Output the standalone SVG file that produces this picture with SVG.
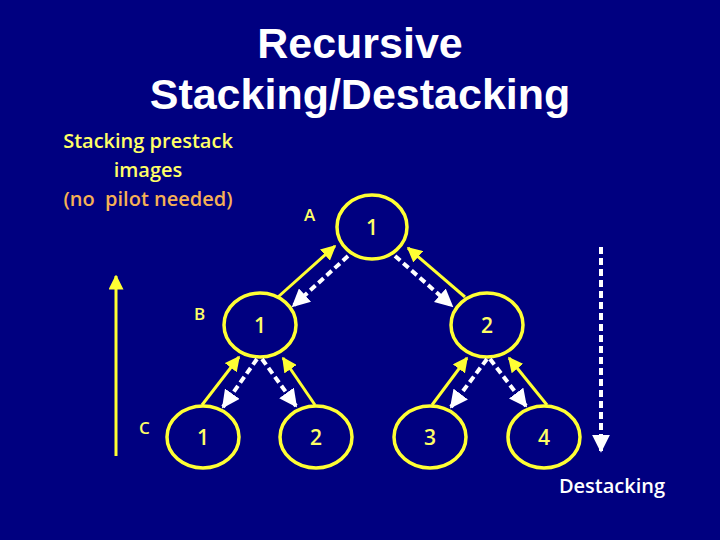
<svg xmlns="http://www.w3.org/2000/svg" width="720" height="540" viewBox="0 0 720 540">
<defs>
<style>
.title{font-family:"Liberation Sans",Arial,sans-serif;font-weight:bold;font-size:43px;fill:#ffffff;text-anchor:middle}
.lbl{font-family:"Open Sans","Liberation Sans",sans-serif;font-weight:600;font-size:17px;fill:#ffff66}
.num{font-family:"Open Sans","Liberation Sans",sans-serif;font-weight:600;font-size:21px;fill:#ffff66;text-anchor:middle}
.side{font-family:"Open Sans","Liberation Sans",sans-serif;font-weight:600;font-size:20px;text-anchor:middle}
.node{fill:none;stroke:#ffff33;stroke-width:3.5}
.up{stroke:#ffff33;stroke-width:3;fill:none;marker-end:url(#yh)}
.down{stroke:#ffffff;stroke-width:4;stroke-dasharray:7 4;fill:none;marker-end:url(#wh)}
</style>
<marker id="yh" viewBox="0 0 10 10" refX="9" refY="5" markerWidth="5" markerHeight="5" orient="auto" markerUnits="strokeWidth">
<path d="M0,0 L10,5 L0,10 z" fill="#ffff33"/>
</marker>
<marker id="wh" viewBox="0 0 10 10" refX="9" refY="5" markerWidth="4.5" markerHeight="4.5" orient="auto" markerUnits="strokeWidth">
<path d="M0,0 L10,5 L0,10 z" fill="#ffffff"/>
</marker>
</defs>
<rect x="0" y="0" width="720" height="540" fill="#000080"/>
<text class="title" x="360" y="58">Recursive</text>
<text class="title" x="360" y="109">Stacking/Destacking</text>
<g id="caption">
<text class="side" x="148" y="148" fill="#ffff66">Stacking prestack</text>
<text class="side" x="148" y="177" fill="#ffff66">images</text>
<text class="side" x="148" y="206" fill="#f5b055" xml:space="preserve">(no  pilot needed)</text>
</g>
<g id="labels">
<text class="lbl" x="304" y="221">A</text>
<text class="lbl" x="194" y="320">B</text>
<text class="lbl" x="139" y="434">C</text>
</g>
<g id="n-top"><ellipse class="node" cx="372" cy="227" rx="35" ry="32"/><text class="num" x="372" y="235">1</text></g>
<g id="n-l"><ellipse class="node" cx="260" cy="325" rx="36" ry="32"/><text class="num" x="260" y="333">1</text></g>
<g id="n-r"><ellipse class="node" cx="487" cy="325" rx="36" ry="32"/><text class="num" x="487" y="333">2</text></g>
<g id="n-1"><ellipse class="node" cx="203" cy="437" rx="36" ry="31"/><text class="num" x="203" y="445">1</text></g>
<g id="n-2"><ellipse class="node" cx="316" cy="437" rx="36" ry="31"/><text class="num" x="316" y="445">2</text></g>
<g id="n-3"><ellipse class="node" cx="430" cy="437" rx="36" ry="31"/><text class="num" x="430" y="445">3</text></g>
<g id="n-4"><ellipse class="node" cx="544" cy="437" rx="36" ry="31"/><text class="num" x="544" y="445">4</text></g>
<g id="connectors">
<line class="up" x1="278" y1="297" x2="335" y2="246"/>
<line class="down" x1="348" y1="256" x2="293" y2="306"/>
<line class="up" x1="465" y1="297" x2="408" y2="248"/>
<line class="down" x1="395" y1="256" x2="452" y2="306"/>
<line class="up" x1="202" y1="405" x2="239" y2="357"/>
<line class="down" x1="257" y1="359" x2="223" y2="407"/>
<line class="down" x1="262" y1="359" x2="296" y2="406"/>
<line class="up" x1="315" y1="405" x2="283" y2="358"/>
<line class="up" x1="432" y1="405" x2="467" y2="358"/>
<line class="down" x1="487" y1="359" x2="451" y2="407"/>
<line class="down" x1="490" y1="359" x2="526" y2="406"/>
<line class="up" x1="547" y1="405" x2="509" y2="358"/>
<line class="up" x1="116" y1="456" x2="116" y2="276"/>
<line class="down" x1="601" y1="247" x2="601" y2="451" stroke-dasharray="6 3"/>
</g>
<text x="612" y="493" font-family="Open Sans, Liberation Sans, sans-serif" font-weight="600" font-size="20" fill="#ffffff" text-anchor="middle">Destacking</text>
</svg>
